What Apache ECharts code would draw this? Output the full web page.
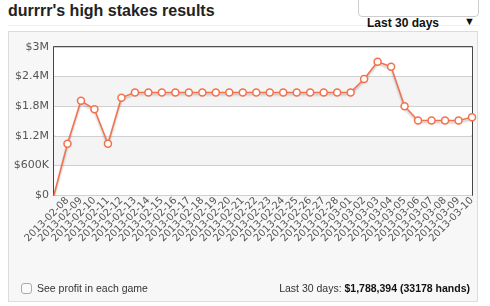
<!DOCTYPE html>
<html>
<head>
<meta charset="utf-8">
<script src="https://cdn.jsdelivr.net/npm/echarts@6/dist/echarts.min.js"></script>
<style>
  html, body { margin: 0; padding: 0; background: #fff; }
  body { width: 490px; height: 306px; position: relative; overflow: hidden; font-family: "Liberation Sans", Arial, sans-serif; }
  #panel { position: absolute; left: 8px; top: 31px; width: 470px; height: 271px; background: #f7f7f7; border: 1px solid #dcdcdc; box-sizing: border-box; }
  #title { position: absolute; left: 8px; top: 1px; font-size: 16px; font-weight: bold; color: #222; line-height: 20px; }
  #rule { position: absolute; left: 8px; top: 25px; width: 472px; height: 1px; background: #f0f0f0; }
  #dropbox { position: absolute; left: 358px; top: -6px; width: 121px; height: 23px; background: #fff; border: 1px solid #ccc; border-radius: 4px; box-sizing: border-box; }
  #droptext { position: absolute; left: 367px; top: 16px; font-size: 12px; font-weight: bold; color: #111; }
  #droparrow { position: absolute; left: 464px; top: 15px; font-size: 11px; color: #111; }
  #chart { position: absolute; left: 0; top: 0; width: 490px; height: 306px; }
  #cb { position: absolute; left: 21px; top: 283px; width: 11px; height: 11px; border: 1px solid #aaa; border-radius: 3px; background: #fafafa; box-sizing: border-box; }
  #cbtext { position: absolute; left: 37px; top: 282px; font-size: 10.5px; color: #333; }
  #total { position: absolute; right: 20px; top: 282px; font-size: 10.5px; color: #333; }
  #total b { color: #111; }
</style>
</head>
<body>
<div id="panel"></div>
<div id="title">durrrr's high stakes results</div>
<div id="rule"></div>
<div id="dropbox"></div>
<div id="droptext">Last 30 days</div>
<div id="droparrow">&#9660;</div>
<div id="chart"></div>
<div id="cb"></div>
<div id="cbtext">See profit in each game</div>
<div id="total">Last 30 days: <b>$1,788,394 (33178 hands)</b></div>
<script>
// Categories (first point is the unlabeled starting point)
var dates = ['',
  '2013-02-08','2013-02-09','2013-02-10','2013-02-11','2013-02-12','2013-02-13','2013-02-14',
  '2013-02-15','2013-02-16','2013-02-17','2013-02-18','2013-02-19','2013-02-20','2013-02-21',
  '2013-02-22','2013-02-23','2013-02-24','2013-02-25','2013-02-26','2013-02-27','2013-02-28',
  '2013-03-01','2013-03-02','2013-03-03','2013-03-04','2013-03-05','2013-03-06','2013-03-07',
  '2013-03-08','2013-03-09','2013-03-10'];
// Cumulative profit (USD)
var profit = [0,
  1040000, 1910000, 1740000, 1040000, 1970000, 2080000, 2080000,
  2080000, 2080000, 2080000, 2080000, 2080000, 2080000, 2080000,
  2080000, 2080000, 2080000, 2080000, 2080000, 2080000, 2080000,
  2080000, 2350000, 2700000, 2600000, 1800000, 1510000, 1510000,
  1510000, 1510000, 1575000];
var yTicks = { min: 0, max: 3000000, interval: 600000 };

var lineColor = '#f4704c';
var seriesData = profit.map(function (v, i) {
  return i === 0 ? { value: v, symbol: 'none' } : v;
});

function fmtMoney(v) {
  if (v === 0) return '$0';
  if (v < 1000000) return '$' + (v / 1000) + 'K';
  return '$' + (v / 1000000) + 'M';
}

var chart = echarts.init(document.getElementById('chart'), null, { renderer: 'canvas' });
chart.setOption({
  animation: false,
  backgroundColor: 'transparent',
  grid: { left: 54, top: 47, right: 18, bottom: 111, show: true, backgroundColor: '#fff', borderColor: '#1a1a1a', borderWidth: 1.6 },
  xAxis: {
    type: 'category',
    data: dates,
    boundaryGap: false,
    axisLine: { show: false },
    axisTick: { show: false },
    axisLabel: { rotate: 45, interval: 0, fontSize: 10, fontFamily: 'DejaVu Sans', color: '#555', margin: 4 },
    splitLine: { show: false }
  },
  yAxis: {
    type: 'value',
    min: yTicks.min, max: yTicks.max, interval: yTicks.interval,
    axisLine: { show: false },
    axisTick: { show: false },
    axisLabel: { formatter: fmtMoney, fontSize: 11, fontFamily: 'DejaVu Sans', color: '#555', margin: 5 },
    splitLine: { show: true, lineStyle: { color: '#d0d0d0', width: 1 } },
    splitArea: { show: true, areaStyle: { color: ['#ffffff', '#f4f4f4'] } }
  },
  series: [{
    type: 'line',
    data: seriesData,
    symbol: 'circle',
    symbolSize: 7,
    lineStyle: { color: lineColor, width: 1.5, shadowColor: 'rgba(0,0,0,0.25)', shadowBlur: 2, shadowOffsetY: 2 },
    itemStyle: { color: '#fff', borderColor: lineColor, borderWidth: 1.5 }
  }]
});
</script>
</body>
</html>
